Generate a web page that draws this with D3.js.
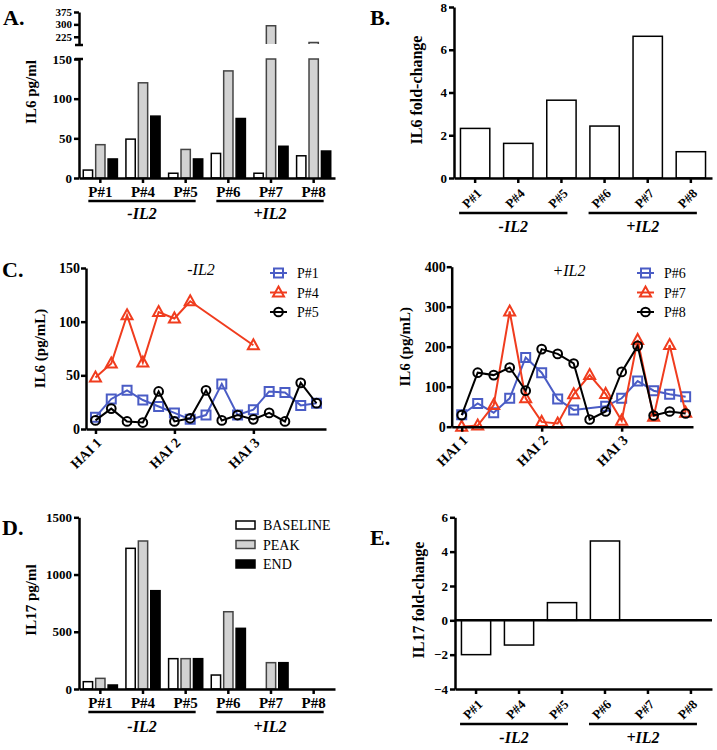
<!DOCTYPE html>
<html><head><meta charset="utf-8">
<script src="https://cdn.jsdelivr.net/npm/d3@7"></script>
<style>
body{margin:0;background:#fff;}
svg{display:block;font-family:"Liberation Serif","Times New Roman",serif;}
</style></head><body>
<svg id="fig" width="717" height="750"></svg>
<script>
// ---------------- DATA ----------------
const patients = ["P#1","P#4","P#5","P#6","P#7","P#8"];
const groupNames = ["-IL2","+IL2"];
const groupMembers = [["P#1","P#4","P#5"],["P#6","P#7","P#8"]];
const seriesNames = ["BASELINE","PEAK","END"];

const il6Baseline = [10,49,6,31,6,28];
const il6Peak     = [42,120,36,135,292,190];
const il6End      = [24,78,24,75,40,34];
const il6Fold     = [2.32,1.62,3.64,2.43,6.63,1.23];

const il17Baseline = [64,1229,265,122,0,0];
const il17Peak     = [93,1293,265,675,230,0];
const il17End      = [35,859,265,530,230,0];
const il17Fold     = [-2.0,-1.44,1.03,4.62,0,0];

const haiTicks  = [0,5,10];
const haiLabels = ["HAI 1","HAI 2","HAI 3"];
const seriesP1 = [11,28,36,27,21,15,9,13,42,13,18,35,34,22,24];
const seriesP4 = [48,61,106,62,109,103,119,null,null,null,78,null,null,null,null];
const seriesP5 = [8,19,7,6,35,7,10,36,8,13,9,15,7,43,24];
const seriesP6 = [30,58,35,71,173,135,69,42,null,51,71,114,90,81,75];
const seriesP7 = [0,3,54,288,71,12,8,81,129,82,15,217,25,204,35];
const seriesP8 = [29,135,129,148,90,194,182,158,18,38,137,202,28,38,33];

const yTicksA  = [0,50,100,150];
const yTicksAU = [225,300,375];
const yTicksB  = [0,2,4,6,8];
const yTicksCL = [0,50,100,150];
const yTicksCR = [0,100,200,300,400];
const yTicksD  = [0,500,1000,1500];
const yTicksE  = [-4,-2,0,2,4,6];

// ---------------- STYLE ----------------
const BLUE = "#4a5cc5", RED = "#f03c1e";
const fills = {BASELINE:"#ffffff", PEAK:"#d2d2d2", END:"#000000"};
const strokes = {BASELINE:"#000", PEAK:"#444", END:"#000"};
const FONT = "'Liberation Serif','Times New Roman',serif";
const fmt = d3.format("d");
const svg = d3.select("#fig");

function styleAxis(g, size){
  g.attr("font-family", FONT).attr("font-size", size||13);
  g.selectAll("path,line").attr("stroke","#000").attr("stroke-width",2.5);
  g.selectAll("text").attr("font-weight","bold").attr("fill","#000");
}
function panelLetter(t,x,y){
  svg.append("text").attr("x",x).attr("y",y).text(t)
    .attr("font-size",22).attr("font-weight","bold").attr("font-family",FONT);
}
function yLabel(t,x,y,size){
  svg.append("text").attr("transform",`translate(${x},${y}) rotate(-90)`)
    .attr("text-anchor","middle").attr("dominant-baseline","middle")
    .attr("font-size",size||15).attr("font-weight","bold").attr("font-family",FONT).text(t);
}
function groupLines(x, lineY, textY, left, right){
  groupNames.forEach((name,gi)=>{
    const m = groupMembers[gi];
    const a = x(m[0]) + x.bandwidth()/2 - left;
    const b = x(m[m.length-1]) + x.bandwidth()/2 + right;
    svg.append("line").attr("x1",a).attr("x2",b).attr("y1",lineY).attr("y2",lineY)
      .attr("stroke","#000").attr("stroke-width",2.5);
    svg.append("text").attr("x",(a+b)/2).attr("y",textY).attr("text-anchor","middle")
      .attr("font-size",16).attr("font-weight","bold").attr("font-style","italic")
      .attr("font-family",FONT).text(name);
  });
}
function rotatedXAxis(x, y){
  const g = svg.append("g").attr("transform",`translate(0,${y})`)
    .call(d3.axisBottom(x).tickSize(5).tickSizeOuter(0));
  styleAxis(g, 13);
  g.selectAll(".tick text").attr("text-anchor","end").attr("y",0).attr("dy","0.35em")
    .attr("transform","translate(4,13) rotate(-45)");
  return g;
}

// ---------------- PANEL A ----------------
(function(){
  const x = d3.scaleBand().domain(patients).range([79,335]).paddingInner(0.2).paddingOuter(0.1);
  const sub = d3.scaleBand().domain(seriesNames).range([0,x.bandwidth()]).paddingInner(0.25);
  const y = d3.scaleLinear().domain([0,150]).range([178,59]);
  const yU = d3.scaleLinear().domain([175,375]).range([45,12]);
  const vals = {BASELINE:il6Baseline, PEAK:il6Peak, END:il6End};
  const bars = svg.append("g");
  patients.forEach((p,i)=>{
    seriesNames.forEach(s=>{
      const v = vals[s][i];
      const x0 = x(p)+sub(s), x1 = x0+sub.bandwidth();
      if (v <= 150){
        bars.append("rect").attr("x",x0).attr("width",sub.bandwidth())
          .attr("y",y(v)).attr("height",y(0)-y(v))
          .attr("fill",fills[s]).attr("stroke",strokes[s]).attr("stroke-width",1.5);
      } else {
        bars.append("path").attr("d",`M${x0},${y(0)}V${y(150)}H${x1}V${y(0)}`)
          .attr("fill",fills[s]).attr("stroke",strokes[s]).attr("stroke-width",1.5);
        bars.append("path").attr("d",`M${x0},${yU(175)-1}V${yU(v)}H${x1}V${yU(175)-1}`)
          .attr("fill",fills[s]).attr("stroke",strokes[s]).attr("stroke-width",1.5);
      }
    });
  });
  const gy = svg.append("g").attr("transform","translate(79,0)")
    .call(d3.axisLeft(y).tickValues(yTicksA).tickSize(5).tickSizeOuter(0).tickPadding(2));
  styleAxis(gy,13);
  const gyu = svg.append("g").attr("transform","translate(79,0)")
    .call(d3.axisLeft(yU).tickValues(yTicksAU).tickSize(5).tickSizeOuter(0).tickPadding(2));
  styleAxis(gyu,11);
  [yU(175), y(150)].forEach(yy=>svg.append("line").attr("x1",75).attr("x2",83)
    .attr("y1",yy).attr("y2",yy).attr("stroke","#000").attr("stroke-width",2.5));
  const gx = svg.append("g").attr("transform","translate(0,178)")
    .call(d3.axisBottom(x).tickSize(5).tickSizeOuter(0));
  styleAxis(gx,15);
  groupLines(x, 201, 219, 12, 10);
  yLabel("IL6 pg/ml", 33, 92, 15);
  panelLetter("A.", 3, 25);
})();

// ---------------- PANEL B ----------------
(function(){
  const x = d3.scaleBand().domain(patients).range([454,712]).paddingInner(0.32).paddingOuter(0.15);
  const y = d3.scaleLinear().domain([0,8]).range([178,7]);
  svg.append("g").selectAll("rect").data(il6Fold).join("rect")
    .attr("x",(d,i)=>x(patients[i])).attr("width",x.bandwidth())
    .attr("y",d=>y(d)).attr("height",d=>y(0)-y(d))
    .attr("fill","#fff").attr("stroke","#000").attr("stroke-width",1.5);
  const gy = svg.append("g").attr("transform","translate(454,0)")
    .call(d3.axisLeft(y).tickValues(yTicksB).tickSize(5).tickSizeOuter(0).tickPadding(2));
  styleAxis(gy,13);
  rotatedXAxis(x,178);
  groupLines(x, 213, 232, 16, 6);
  yLabel("IL6 fold-change", 418, 90, 16);
  panelLetter("B.", 370, 25);
})();

// ---------------- PANEL C ----------------
function markerPath(shape){
  if (shape==="square") return "M-4.5,-4.5H4.5V4.5H-4.5Z";
  if (shape==="triangle") return "M0,-6L5.5,4L-5.5,4Z";
  return d3.symbol(d3.symbolCircle, 60)();
}
function linePanel(cfg){
  const x = d3.scaleLinear().domain(cfg.xdom).range([cfg.x0,cfg.x1]);
  const y = d3.scaleLinear().domain([0,cfg.ymax]).range([cfg.y0,cfg.y1]);
  cfg.series.forEach(s=>{
    const pts = s.values.map((v,i)=>({i,v})).filter(d=>d.v!==null);
    svg.append("path").datum(pts)
      .attr("d",d3.line().x(d=>x(d.i)).y(d=>y(d.v)))
      .attr("fill","none").attr("stroke",s.color).attr("stroke-width",2);
    svg.append("g").selectAll("path").data(pts).join("path")
      .attr("transform",d=>`translate(${x(d.i)},${y(d.v)})`)
      .attr("d",markerPath(s.shape)).attr("fill","none")
      .attr("stroke",s.color).attr("stroke-width",2);
  });
  const gy = svg.append("g").attr("transform",`translate(${cfg.x0},0)`)
    .call(d3.axisLeft(y).tickValues(cfg.yticks).tickSize(5).tickSizeOuter(0).tickPadding(1));
  styleAxis(gy,14);
  const gx = svg.append("g").attr("transform",`translate(0,${cfg.y0})`)
    .call(d3.axisBottom(x).tickValues(haiTicks).tickFormat((d,i)=>haiLabels[i]).tickSize(5).tickSizeOuter(0));
  styleAxis(gx,14);
  gx.selectAll(".tick text").attr("text-anchor","end").attr("y",0).attr("dy","0.35em")
    .attr("transform","translate(3,11) rotate(-45)");
  svg.append("text").attr("x",cfg.titleX).attr("y",cfg.titleY).attr("text-anchor","middle")
    .attr("font-size",16).attr("font-style","italic").attr("font-family",FONT).text(cfg.title);
  cfg.series.forEach((s,k)=>{
    const ly = cfg.legY + k*19.5;
    svg.append("line").attr("x1",cfg.legX).attr("x2",cfg.legX+17).attr("y1",ly).attr("y2",ly)
      .attr("stroke",s.color).attr("stroke-width",2);
    svg.append("path").attr("transform",`translate(${cfg.legX+8.5},${ly})`)
      .attr("d",markerPath(s.shape)).attr("fill","none").attr("stroke",s.color).attr("stroke-width",2);
    svg.append("text").attr("x",cfg.legX+27).attr("y",ly+5).attr("font-size",14)
      .attr("font-family",FONT).text(s.name);
  });
  yLabel("IL6 (pg/mL)", cfg.labX, (cfg.y0+cfg.y1)/2, 15);
}
linePanel({x0:86,x1:326,xdom:[-0.6,14.6],y0:429,y1:268,ymax:150,yticks:yTicksCL,
  title:"-IL2",titleX:201,titleY:275,legX:270,legY:273,labX:42,
  series:[{name:"P#1",values:seriesP1,color:BLUE,shape:"square"},
          {name:"P#4",values:seriesP4,color:RED,shape:"triangle"},
          {name:"P#5",values:seriesP5,color:"#000",shape:"circle"}]});
linePanel({x0:451.7,x1:693,xdom:[-0.625,14.46],y0:426.7,y1:266.7,ymax:400,yticks:yTicksCR,
  title:"+IL2",titleX:569,titleY:276,legX:637,legY:273,labX:407,
  series:[{name:"P#6",values:seriesP6,color:BLUE,shape:"square"},
          {name:"P#7",values:seriesP7,color:RED,shape:"triangle"},
          {name:"P#8",values:seriesP8,color:"#000",shape:"circle"}]});
panelLetter("C.", 2, 277);

// ---------------- PANEL D ----------------
(function(){
  const x = d3.scaleBand().domain(patients).range([79,335]).paddingInner(0.2).paddingOuter(0.1);
  const sub = d3.scaleBand().domain(seriesNames).range([0,x.bandwidth()]).paddingInner(0.25);
  const y = d3.scaleLinear().domain([0,1500]).range([689,517.3]);
  const vals = {BASELINE:il17Baseline, PEAK:il17Peak, END:il17End};
  patients.forEach((p,i)=>{
    seriesNames.forEach(s=>{
      const v = vals[s][i];
      if (v<=0) return;
      svg.append("rect").attr("x",x(p)+sub(s)).attr("width",sub.bandwidth())
        .attr("y",y(v)).attr("height",y(0)-y(v))
        .attr("fill",fills[s]).attr("stroke",strokes[s]).attr("stroke-width",1.5);
    });
  });
  const gy = svg.append("g").attr("transform","translate(79,0)")
    .call(d3.axisLeft(y).tickValues(yTicksD).tickFormat(fmt).tickSize(5).tickSizeOuter(0).tickPadding(2));
  styleAxis(gy,13);
  const gx = svg.append("g").attr("transform","translate(0,689)")
    .call(d3.axisBottom(x).tickSize(5).tickSizeOuter(0));
  styleAxis(gx,15);
  groupLines(x, 712, 732, 12, 10);
  yLabel("IL17 pg/ml", 33, 600, 15);
  seriesNames.forEach((s,k)=>{
    const ly = 525 + k*19.5;
    svg.append("rect").attr("x",236).attr("y",ly-4).attr("width",19).attr("height",8)
      .attr("fill",fills[s]).attr("stroke",strokes[s]).attr("stroke-width",1.5);
    svg.append("text").attr("x",263).attr("y",ly+5).attr("font-size",14)
      .attr("font-family",FONT).text(s);
  });
  panelLetter("D.", 2, 535);
})();

// ---------------- PANEL E ----------------
(function(){
  const x = d3.scaleBand().domain(patients).range([455,712]).paddingInner(0.32).paddingOuter(0.15);
  const y = d3.scaleLinear().domain([-4,6]).range([689,517.3]);
  svg.append("g").selectAll("rect").data(il17Fold).join("rect")
    .attr("x",(d,i)=>x(patients[i])).attr("width",x.bandwidth())
    .attr("y",d=>y(Math.max(0,d))).attr("height",d=>Math.abs(y(d)-y(0)))
    .attr("fill","#fff").attr("stroke","#000").attr("stroke-width",1.5);
  svg.append("line").attr("x1",455).attr("x2",712).attr("y1",y(0)).attr("y2",y(0))
    .attr("stroke","#000").attr("stroke-width",2.5);
  const gy = svg.append("g").attr("transform","translate(455,0)")
    .call(d3.axisLeft(y).tickValues(yTicksE).tickSize(5).tickSizeOuter(0).tickPadding(2));
  styleAxis(gy,13);
  rotatedXAxis(x,689);
  groupLines(x, 724, 743, 16, 6);
  yLabel("IL17 fold-change", 420, 600, 16);
  panelLetter("E.", 370, 545);
})();
</script>
</body></html>
